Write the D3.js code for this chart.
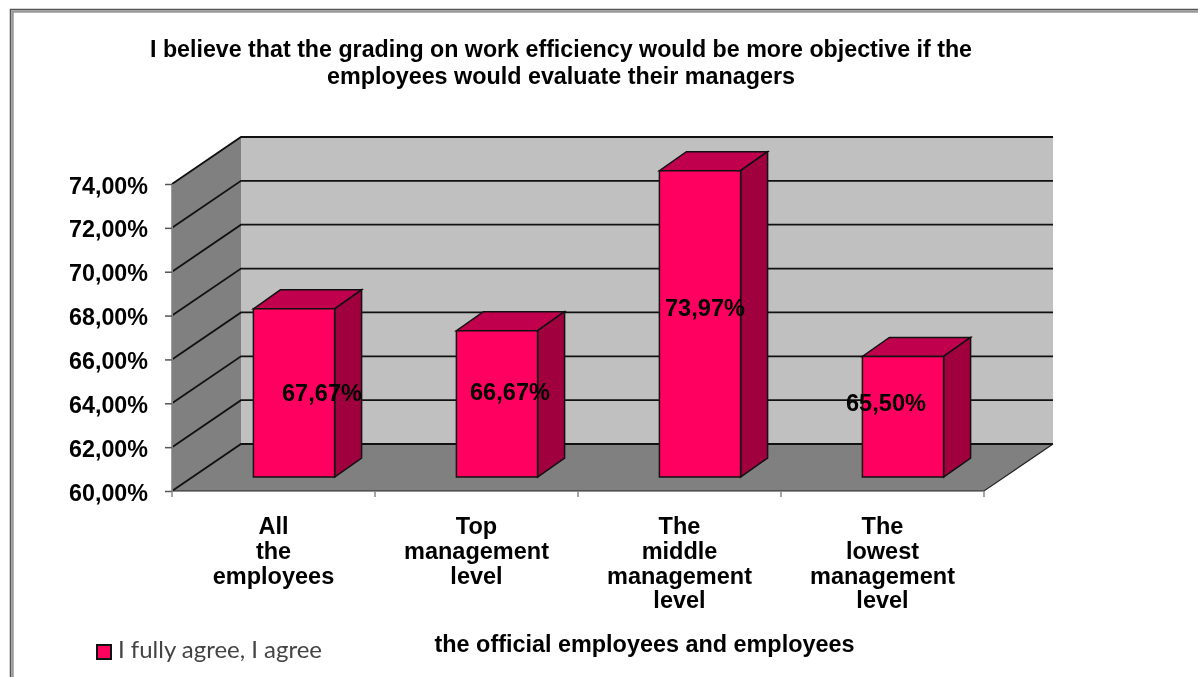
<!DOCTYPE html>
<html><head><meta charset="utf-8">
<script src="https://cdn.jsdelivr.net/npm/d3@7/dist/d3.min.js"></script>
<style>html,body{margin:0;padding:0;background:#fff;overflow:hidden}svg{display:block;filter:blur(.5px)}
text{font-family:"Liberation Sans",Arial,sans-serif;font-weight:700;fill:#000}</style></head>
<body><svg id="c" width="1198" height="677"></svg>
<script>
const categories = [["All","the","employees"],["Top","management","level"],["The","middle","management","level"],["The","lowest","management","level"]];
const values = [67.67,66.67,73.97,65.50];
const yTicks = [60,62,64,66,68,70,72,74];
const titleLines = ["I believe that the grading on work efficiency would be more objective if the","employees would evaluate their managers"];
const xTitle = "the official employees and employees";
const legendLabel = "I fully agree, I agree";

const svg = d3.select("#c");
const y = d3.scaleLinear().domain([60,74]).range([491,184]);
const x = d3.scaleBand().domain(d3.range(4)).range([172,984]).paddingInner(0).paddingOuter(0);
const depth = [69,-47], barShift=[20.5,-14], barDepth=[27,-19];
const fmt = v => v.toFixed(2).replace(".",",")+"%";
const poly = (pts,fill,stroke,sw) => svg.append("polygon").attr("points",pts.map(p=>p.join(",")).join(" ")).attr("fill",fill).attr("stroke",stroke||"none").attr("stroke-width",sw||0);

// frame
svg.append("path").attr("d","M10.5 677V9.5H1198").attr("fill","none").attr("stroke","#555").attr("stroke-width",1.5);
svg.append("path").attr("d","M12.5 677V11.5H1198").attr("fill","none").attr("stroke","#999").attr("stroke-width",2.5);

// title
svg.selectAll(".t").data(titleLines).join("text").attr("x",561).attr("y",(d,i)=>57+i*27).attr("text-anchor","middle")
  .attr("font-size",23).attr("textLength",(d,i)=>i?468:822).attr("lengthAdjust","spacingAndGlyphs").text(d=>d);

const x0=172,x1=984,yb=y(60),yt=y(74);
// walls
poly([[x0+depth[0],yb+depth[1]],[x1+depth[0],yb+depth[1]],[x1+depth[0],yt+depth[1]],[x0+depth[0],yt+depth[1]]],"#c0c0c0");
poly([[x0,yb],[x0+depth[0],yb+depth[1]],[x0+depth[0],yt+depth[1]],[x0,yt]],"#808080");
poly([[x0,yb],[x1,yb],[x1+depth[0],yb+depth[1]],[x0+depth[0],yb+depth[1]]],"#808080");
// gridlines
yTicks.forEach(t=>{
  svg.append("path").attr("d",`M${x0} ${y(t)}L${x0+depth[0]} ${y(t)+depth[1]}H${x1+depth[0]}`).attr("fill","none").attr("stroke","#111").attr("stroke-width",1.8);
});
svg.append("path").attr("d",`M${x0} ${yb}L${x1} ${yb}L${x1+depth[0]} ${yb+depth[1]}`).attr("fill","none").attr("stroke","#222").attr("stroke-width",1.2);
svg.append("path").attr("d",`M${x0} ${yb}V${yt}`).attr("stroke","#808080").attr("stroke-width",1.5);

// axes
const ya = svg.append("g").attr("transform",`translate(${x0},0)`).call(d3.axisLeft(y).tickValues(yTicks).tickFormat(fmt).tickSize(7).tickPadding(17));
ya.select(".domain").attr("stroke","#808080");
ya.selectAll(".tick line").attr("stroke","#555").attr("stroke-width",1.5);
ya.selectAll("text").attr("font-size",23).attr("font-family",'"Liberation Sans"').attr("fill","#000").attr("dy","9px").attr("textLength",79).attr("lengthAdjust","spacingAndGlyphs");
svg.selectAll(".xt").data(d3.range(5)).join("line").attr("x1",i=>x0+i*x.bandwidth()).attr("x2",i=>x0+i*x.bandwidth()).attr("y1",yb).attr("y2",yb+6).attr("stroke","#888").attr("stroke-width",1.5);

// bars
const bw = x.bandwidth()*0.4;
values.forEach((v,i)=>{
  const l = x(i)+x.bandwidth()/2-bw/2+barShift[0], r=l+bw, t=y(v)+barShift[1], b=y(60)+barShift[1];
  const dx=barDepth[0], dy=barDepth[1];
  poly([[l,t],[r,t],[r+dx,t+dy],[l+dx,t+dy]],"#c0004d","#111",1.5);
  poly([[r,t],[r+dx,t+dy],[r+dx,b+dy],[r,b]],"#a0003e","#111",1.5);
  poly([[l,t],[r,t],[r,b],[l,b]],"#ff0060","#111",1.5);
});
const labelPos = [[322,401],[510,400],[705,316],[886,411]];
svg.selectAll(".dl").data(values).join("text").attr("x",(d,i)=>labelPos[i][0]).attr("y",(d,i)=>labelPos[i][1]).attr("text-anchor","middle")
  .attr("font-size",23).attr("textLength",80).attr("lengthAdjust","spacingAndGlyphs").text(fmt);

// category labels
categories.forEach((c,i)=>{
  const cx = x(i)+x.bandwidth()/2;
  svg.append("g").selectAll("text").data(c).join("text").attr("x",cx).attr("y",(d,j)=>534+j*24.8).attr("text-anchor","middle").attr("font-size",23.5).text(d=>d);
});
svg.append("text").attr("x",644.5).attr("y",652).attr("text-anchor","middle").attr("font-size",23).attr("textLength",420).attr("lengthAdjust","spacingAndGlyphs").text(xTitle);

// legend
svg.append("rect").attr("x",97).attr("y",645).attr("width",14).attr("height",14).attr("fill","#ff0060").attr("stroke","#111").attr("stroke-width",2);
svg.append("text").attr("x",118).attr("y",658).attr("font-size",24).attr("textLength",204).attr("lengthAdjust","spacingAndGlyphs")
  .style("font-family","Lato,sans-serif").style("font-weight",400).style("fill","#444").text(legendLabel);
</script></body></html>
